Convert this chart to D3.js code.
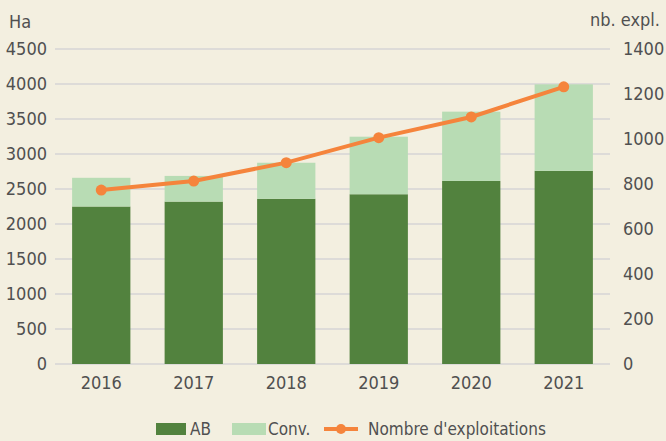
<!DOCTYPE html>
<html>
<head>
<meta charset="utf-8">
<script src="https://cdn.jsdelivr.net/npm/d3@7"></script>
<style>
  body { margin: 0; background: #f3efe0; }
  text { font-family: "DejaVu Sans Condensed", "DejaVu Sans", sans-serif; fill: #505050; }
</style>
</head>
<body>
<div id="chart"></div>
<script>
// data
const years = ["2016", "2017", "2018", "2019", "2020", "2021"];
const ab = [2250, 2320, 2360, 2425, 2615, 2760];
const conv = [410, 367, 515, 822, 990, 1235];
const exploitations = [773, 813, 895, 1006, 1098, 1232];
const leftTicks = [0, 500, 1000, 1500, 2000, 2500, 3000, 3500, 4000, 4500];
const rightTicks = [0, 200, 400, 600, 800, 1000, 1200, 1400];

const W = 666, H = 441;
const margin = {top: 49, right: 56, bottom: 77, left: 55};
const width = W - margin.left - margin.right;
const height = H - margin.top - margin.bottom;
const fs = "18px";

const svg = d3.select("#chart")
    .append("svg")
    .attr("width", W)
    .attr("height", H);

svg.append("rect").attr("width", W).attr("height", H).attr("fill", "#f3efe0");

const g = svg.append("g")
    .attr("transform", "translate(" + margin.left + "," + margin.top + ")");

const x = d3.scaleBand()
    .domain(years)
    .range([0, width])
    .paddingInner(0.37)
    .paddingOuter(0.185);

const y = d3.scaleLinear().domain([0, 4500]).range([height, 0]);
const y2 = d3.scaleLinear().domain([0, 1400]).range([height, 0]);

// gridlines
g.selectAll(".grid")
    .data(leftTicks)
    .enter().append("line")
    .attr("x1", 0)
    .attr("x2", width)
    .attr("y1", d => y(d))
    .attr("y2", d => y(d))
    .attr("stroke", "#dddbd8")
    .attr("stroke-width", 2);

// left axis
const yAxis = g.append("g")
    .call(d3.axisLeft(y).tickValues(leftTicks).tickFormat(d3.format("d")).tickSize(0).tickPadding(8));
yAxis.select(".domain").remove();
yAxis.selectAll("text").style("font-size", fs).attr("fill", "#505050");

// right axis
const y2Axis = g.append("g")
    .attr("transform", "translate(" + width + ",0)")
    .call(d3.axisRight(y2).tickValues(rightTicks).tickFormat(d3.format("d")).tickSize(0).tickPadding(13));
y2Axis.select(".domain").remove();
y2Axis.selectAll("text").style("font-size", fs).attr("fill", "#505050");

// x axis
const xAxis = g.append("g")
    .attr("transform", "translate(0," + height + ")")
    .call(d3.axisBottom(x).tickSize(0).tickPadding(12));
xAxis.select(".domain").remove();
xAxis.selectAll("text").style("font-size", fs).attr("fill", "#505050");

// stacked bars
g.selectAll(".ab")
    .data(years)
    .enter().append("rect")
    .attr("x", d => x(d))
    .attr("y", (d, i) => y(ab[i]))
    .attr("width", x.bandwidth())
    .attr("height", (d, i) => height - y(ab[i]))
    .attr("fill", "#52823e");

g.selectAll(".conv")
    .data(years)
    .enter().append("rect")
    .attr("x", d => x(d))
    .attr("y", (d, i) => y(ab[i] + conv[i]))
    .attr("width", x.bandwidth())
    .attr("height", (d, i) => y(ab[i]) - y(ab[i] + conv[i]))
    .attr("fill", "#b8dcb4");

// line
const line = d3.line()
    .x((d, i) => x(years[i]) + x.bandwidth() / 2)
    .y(d => y2(d));

g.append("path")
    .attr("d", line(exploitations))
    .attr("fill", "none")
    .attr("stroke", "#f5843c")
    .attr("stroke-width", 4);

g.selectAll(".dot")
    .data(exploitations)
    .enter().append("circle")
    .attr("cx", (d, i) => x(years[i]) + x.bandwidth() / 2)
    .attr("cy", d => y2(d))
    .attr("r", 5.5)
    .attr("fill", "#f5843c");

// axis titles
svg.append("text").attr("x", 9).attr("y", 28).style("font-size", fs).text("Ha");
svg.append("text").attr("x", 660).attr("y", 26).attr("text-anchor", "end")
    .style("font-size", fs).text("nb. expl.");

// legend
const lg = svg.append("g").attr("transform", "translate(0,429)");
lg.append("rect").attr("x", 156).attr("y", -6).attr("width", 30).attr("height", 12).attr("fill", "#52823e");
lg.append("text").attr("x", 190).attr("y", 6).style("font-size", "17px").text("AB");
lg.append("rect").attr("x", 232).attr("y", -6).attr("width", 34).attr("height", 12).attr("fill", "#b8dcb4");
lg.append("text").attr("x", 268).attr("y", 6).style("font-size", "17px").text("Conv.");
lg.append("line").attr("x1", 324).attr("x2", 358).attr("y1", 0).attr("y2", 0)
    .attr("stroke", "#f5843c").attr("stroke-width", 4);
lg.append("circle").attr("cx", 341).attr("cy", 0).attr("r", 5).attr("fill", "#f5843c");
lg.append("text").attr("x", 368).attr("y", 6).style("font-size", "17px").text("Nombre d'exploitations");
</script>
</body>
</html>
